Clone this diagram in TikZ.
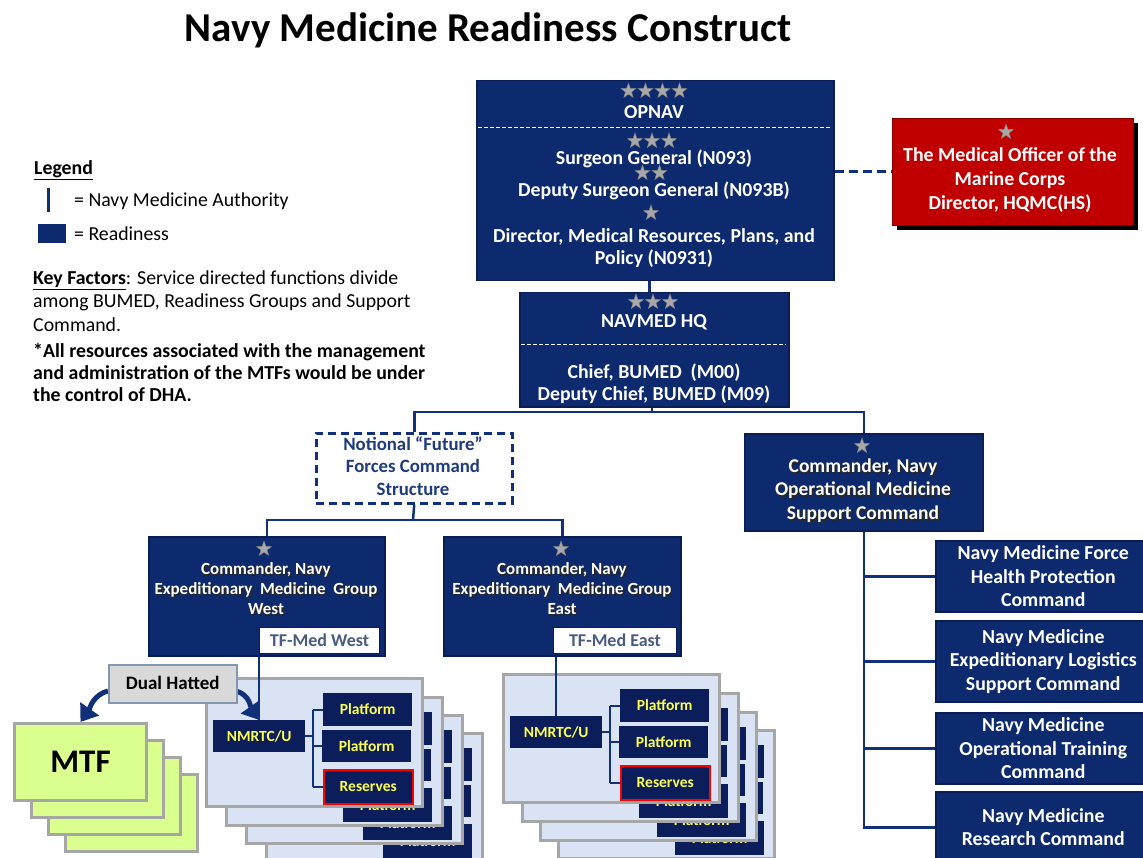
\documentclass[tikz,border=0pt]{standalone}
\usepackage{fontspec}
\setmainfont{Carlito}
\usetikzlibrary{arrows.meta,calc,shapes.geometric}
\definecolor{navy}{HTML}{0E2A6E}
\definecolor{navyedge}{HTML}{0A1E55}
\definecolor{navyline}{HTML}{10307A}
\definecolor{pbox}{HTML}{0B1D5A}
\definecolor{stargray}{HTML}{A8A8A8}
\definecolor{panelfill}{HTML}{DAE3F3}
\definecolor{panelgray}{HTML}{A6A6A6}
\definecolor{mtfgreen}{HTML}{DBFF8F}
\definecolor{dualgray}{HTML}{D9D9D9}
\definecolor{dualedge}{HTML}{8497B0}
\definecolor{tfblue}{HTML}{4A5A82}
\definecolor{notblue}{HTML}{1F3B7D}
\definecolor{redbox}{HTML}{C00000}
\definecolor{yel}{HTML}{FFFF4D}
\newcommand{\fs}[1]{\fontsize{#1}{#1}\selectfont}
\newcommand{\starrow}[4]{% name, count, x, y
  \foreach \i in {1,...,#2}{\node[starst] (#1-\i) at ({#3+(\i-(#2+1)/2)*17},#4) {};}}
\newcommand{\shtxt}[5]{% name, x, y, size, text
  \node[font=\bfseries\fs{#4}, text=black!85, inner sep=0pt, text height=0.65*#4pt, text depth=0pt] (#1s) at ({#2+1.5},{#3+2}) {#5};
  \node[font=\bfseries\fs{#4}, text=white, inner sep=0pt, text height=0.65*#4pt, text depth=0pt] (#1) at (#2,#3) {#5};}
\newcommand{\panel}[5]{% prefix, x, y, style, label
  \node[panelst, minimum width=216pt, minimum height=128pt] (#1) at (#2,#3) {};
  \node[pbx, minimum width=92pt, minimum height=32pt] (#1n) at ({#2+8},{#3+43}) {NMRTC/U};
  \node[pbx, minimum width=89pt, minimum height=33pt] (#1a) at ({#2+118},{#3+16}) {Platform};
  \node[pbx, minimum width=89pt, minimum height=32pt] (#1b) at ({#2+117},{#3+53}) {Platform};
  \node[pbx, minimum width=89pt, minimum height=34pt, #4] (#1c) at ({#2+118},{#3+92}) {#5};
  \draw[bconn] (#1n.east) -- ++(8,0) coordinate (#1j);
  \draw[bconn] (#1j |- #1a.west) -- (#1j |- #1c.west);
  \foreach \t in {a,b,c}{\draw[bconn] (#1j |- #1\t.west) -- (#1\t.west);}}
\begin{document}
\begin{tikzpicture}[x=1pt,y=-1pt,
  navybox/.style={rectangle, fill=navy, draw=navyedge, line width=1.5pt, inner sep=0pt, anchor=north west},
  bt/.style={text=white, font=\bfseries\fontsize{19.8}{23.5}\selectfont, inner sep=0pt, text height=12.8pt, text depth=0pt},
  rbt/.style={text=white, font=\bfseries\fontsize{19.8}{23.5}\selectfont, align=center},
  starst/.style={star, star points=5, star point ratio=2.5, fill=stargray, draw=gray, line width=0.4pt, minimum size=16pt, inner sep=0pt},
  conn/.style={draw=navyline, line width=2.5pt},
  dashconn/.style={draw=navyline, line width=3pt, dash pattern=on 9pt off 5pt},
  bconn/.style={draw=navyline, line width=2pt},
  bigarrow/.style={draw=navyline, line width=5pt, -{Triangle[length=16pt,width=22pt]}},
  lgt/.style={anchor=west, font=\fontsize{19.8}{19.8}\selectfont, inner sep=0pt, text height=12.8pt, text depth=0pt},
  lgb/.style={anchor=west, font=\bfseries\fontsize{19.8}{19.8}\selectfont, inner sep=0pt, text height=12.8pt, text depth=0pt},
  panelst/.style={rectangle, fill=panelfill, draw=panelgray, line width=3pt, anchor=north west, inner sep=0pt},
  pbx/.style={rectangle, fill=pbox, anchor=north west, inner sep=0pt, text=yel, font=\bfseries\fs{15.5}, text height=10pt, text depth=0pt},
  resst/.style={draw=red, line width=1.5pt},
  mtfst/.style={rectangle, fill=mtfgreen, draw=panelgray, line width=3pt, minimum width=132pt, minimum height=77pt, anchor=north west, inner sep=0pt},
  divider/.style={draw=white, line width=1pt, dash pattern=on 4pt off 2pt}
]
\useasboundingbox (0,0) rectangle (1143,858);
\clip (0,0) rectangle (1143,858);
\fill[white] (0,0) rectangle (1143,858);

% title
\node[font=\bfseries\fs{41}, inner sep=0pt, text height=26.5pt, text depth=0pt] (title) at (488,28) {Navy Medicine Readiness Construct};

% legend
\node[lgb] (leg) at (34,168) {\underline{Legend}};
\draw[navyline, line width=3pt] (48,188) -- (48,212);
\node[lgt] (leg1) at (74,200) {= Navy Medicine Authority};
\fill[navy] (38,224) rectangle (66,243);
\node[lgt] (leg2) at (74,234) {= Readiness};
\node[lgt] (kf1) at (33,278) {\underline{\textbf{Key Factors}}: Service directed functions divide};
\node[lgt] (kf2) at (33,301) {among BUMED, Readiness Groups and Support};
\node[lgt] (kf3) at (33,325) {Command.};
\node[lgb] (kf4) at (33,351) {*All resources associated with the management};
\node[lgb] (kf5) at (33,373) {and administration of the MTFs would be under};
\node[lgb] (kf6) at (33,395) {the control of DHA.};

% OPNAV
\node[navybox, minimum width=357pt, minimum height=200pt] (opnav) at (476,80) {};
\draw[divider] (478,128) -- (831,128);
\starrow{so4}{4}{654}{91}
\node[bt] (opt1) at (654,112) {OPNAV};
\starrow{so3}{3}{652}{141}
\node[bt] (opt2) at (654,158) {Surgeon General (N093)};
\starrow{so2}{2}{651}{173}
\node[bt] (opt3) at (654,190) {Deputy Surgeon General (N093B)};
\starrow{so1}{1}{651}{213}
\node[bt] (opt4) at (654,236) {Director, Medical Resources, Plans, and};
\node[bt] (opt5) at (654,258) {Policy (N0931)};

% NAVMED HQ
\node[navybox, minimum width=269pt, minimum height=114pt] (navmed) at (519,292) {};
\draw[divider] (521,345) -- (786,345);
\starrow{sn3}{3}{653}{302}
\node[bt] (nvt1) at (654,321) {NAVMED HQ};
\node[bt] (nvt2) at (654,372) {Chief, BUMED\ \ (M00)};
\node[bt] (nvt3) at (654,394) {Deputy Chief, BUMED (M09)};

\draw[conn] ([xshift=-6pt]opnav.south) -- ([xshift=-6pt]opnav.south |- navmed.north);

% red box
\fill[black] (897,123) rectangle (1138,230);
\node[rectangle, fill=redbox, draw=redbox!70!black, line width=1pt, anchor=north west, minimum width=241pt, minimum height=107pt, inner sep=0pt] (red) at (892,118) {};
\starrow{sr1}{1}{1006}{132}
\node[bt] (rt1) at (1010,155) {The Medical Officer of the};
\node[bt] (rt2) at (1010,179) {Marine Corps};
\node[bt] (rt3) at (1010,203) {Director, HQMC(HS)};
\draw[dashconn] (red.west -| opnav.east) -- (red.west);

% Notional
\node[rectangle, fill=white, draw=navyline, line width=2.5pt, dash pattern=on 8pt off 5pt, anchor=north west, minimum width=196pt, minimum height=70pt, inner sep=0pt] (notional) at (315,432) {};
\node[font=\bfseries\fs{18.8}, text=notblue, inner sep=0pt, text height=12.2pt, text depth=0pt] (nt1) at (413,444) {Notional “Future”};
\node[font=\bfseries\fs{18.8}, text=notblue, inner sep=0pt, text height=12.2pt, text depth=0pt] (nt2) at (413,466) {Forces Command};
\node[font=\bfseries\fs{18.8}, text=notblue, inner sep=0pt, text height=12.2pt, text depth=0pt] (nt3) at (413,489) {Structure};

% Ops support
\node[navybox, minimum width=238pt, minimum height=97pt] (ops) at (744,433) {};
\starrow{sop}{1}{862}{446}
\shtxt{opt1x}{863}{466}{19.5}{Commander, Navy}
\shtxt{opt2x}{863}{489}{19.5}{Operational Medicine}
\shtxt{opt3x}{863}{513}{19.5}{Support Command}

\coordinate (j1) at (652,412);
\draw[conn] (navmed.south -| j1) -- (j1);
\draw[conn] (j1) -| (notional.north);
\draw[conn] (j1) -| (ops.north);

% right column
\node[navybox, rbt, minimum width=215pt, minimum height=71pt] (r1) at (935,540) {Navy Medicine Force\\Health Protection\\Command};
\node[navybox, rbt, minimum width=215pt, minimum height=81pt] (r2) at (935,620) {Navy Medicine\\Expeditionary Logistics\\Support Command};
\node[navybox, rbt, minimum width=215pt, minimum height=71pt] (r3) at (935,712) {Navy Medicine\\Operational Training\\Command};
\node[navybox, rbt, minimum width=215pt, minimum height=71pt] (r4) at (935,791) {Navy Medicine\\Research Command};
\draw[conn] (ops.south) |- (r4.west);
\draw[conn] (ops.south |- r1.west) -- (r1.west);
\draw[conn] (ops.south |- r2.west) -- (r2.west);
\draw[conn] (ops.south |- r3.west) -- (r3.west);

% West / East groups
\node[navybox, minimum width=236pt, minimum height=119pt] (west) at (148,536) {};
\starrow{sw}{1}{264}{549}
\shtxt{wt1}{266}{569}{17}{Commander, Navy}
\shtxt{wt2}{266}{589}{17}{Expeditionary\ \ Medicine\ \ Group}
\shtxt{wt3}{266}{609}{17}{West}
\node[rectangle, fill=white, draw=navyedge, line width=1pt, anchor=north west, minimum width=120pt, minimum height=26pt, inner sep=0pt, text=tfblue, font=\bfseries\fs{18}, text height=11.7pt, text depth=0pt] (wtf) at (259,627) {TF-Med West};

\node[navybox, minimum width=237pt, minimum height=119pt] (east) at (443,536) {};
\starrow{se}{1}{561}{549}
\shtxt{et1}{562}{569}{17}{Commander, Navy}
\shtxt{et2}{562}{589}{17}{Expeditionary\ \ Medicine Group}
\shtxt{et3}{562}{609}{17}{East}
\node[rectangle, fill=white, draw=navyedge, line width=1pt, anchor=north west, minimum width=123pt, minimum height=26pt, inner sep=0pt, text=tfblue, font=\bfseries\fs{18}, text height=11.7pt, text depth=0pt] (etf) at (553,627) {TF-Med East};

\coordinate (j2) at (413,520);
\draw[conn] (notional.south) -- (j2);
\draw[conn] (j2) -| (west.north);
\draw[conn] (j2) -| (east.north);

% MTF stack
\foreach \i in {3,2,1}{\node[mtfst] (mtf\i) at ({13+17*\i},{722+17*\i}) {};}
\node[mtfst, font=\bfseries\fs{33}, text height=21.2pt, text depth=0pt] (mtf0) at (13,722) {MTF};

% panel stacks
\panel{wp3}{265}{732}{}{Platform}
\panel{wp2}{245}{714}{}{Platform}
\panel{wp1}{225}{696}{}{Platform}
\panel{wp0}{205}{677}{resst}{Reserves}
\panel{ep3}{557}{729}{}{Platform}
\panel{ep2}{539}{711}{}{Platform}
\panel{ep1}{521}{692}{}{Platform}
\panel{ep0}{502}{673}{resst}{Reserves}

\draw[conn] (wp0n.north |- west.south) -- (wp0n.north);
\draw[conn] (ep0n.north |- east.south) -- (ep0n.north);

% dual hatted
\draw[bigarrow] ([yshift=-8pt]108,683) to[out=195,in=55] (mtf0.north);
\draw[bigarrow] ([yshift=-8pt]236,683) to[out=-15,in=125] (wp0n.north);
\node[rectangle, fill=dualgray, draw=dualedge, line width=1.5pt, anchor=north west, minimum width=128pt, minimum height=38pt, inner sep=0pt, font=\bfseries\fs{19}, text height=12.3pt, text depth=0pt] (dual) at (108,664) {Dual Hatted};
\end{tikzpicture}
\end{document}
